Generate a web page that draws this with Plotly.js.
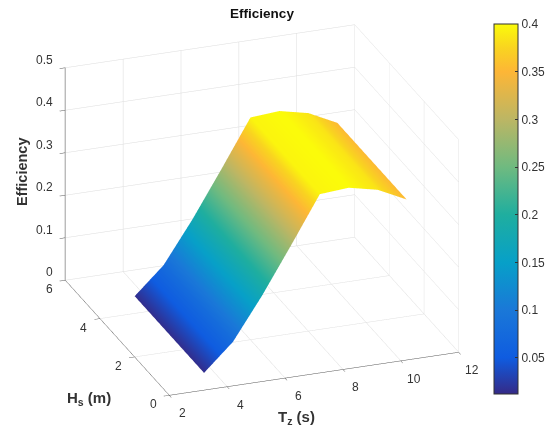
<!DOCTYPE html>
<html><head><meta charset="utf-8">
<script src="https://cdn.plot.ly/plotly-3.0.1.min.js"></script>
<style>html,body{margin:0;padding:0;background:#fff}#c{width:553px;height:432px}</style></head>
<body><div id="c"></div>
<script>
const tz = [3.5,4.5,5.5,6.5,7.5,8.5,9.5,10.5];
const hs = [0.5,1.5,2.5,3.5,4.5];
const eff05 = [0.015,0.078,0.176,0.284,0.395,0.40,0.385,0.352];
const eff15 = [0.015,0.078,0.176,0.284,0.395,0.40,0.385,0.352];
const eff25 = [0.015,0.078,0.176,0.284,0.395,0.40,0.385,0.352];
const eff35 = [0.015,0.078,0.176,0.284,0.395,0.40,0.385,0.352];
const eff45 = [0.015,0.078,0.176,0.284,0.395,0.40,0.385,0.352];
const tzTicks = [2,4,6,8,10,12];
const hsTicks = [0,2,4,6];
const effTicks = [0,0.1,0.2,0.3,0.4,0.5];
const cbarTicks = [0.05,0.1,0.15,0.2,0.25,0.3,0.35,0.4];
const cbarLabels = ['0.05','0.1','0.15','0.2','0.25','0.3','0.35','0.4'];
const cmin=0.012, cmax=0.4;
const stops=[[0.012,'#352a87'],[0.05,'#0f5ce0'],[0.1,'#1a78d8'],[0.15,'#07a0c8'],[0.2,'#1fae9f'],[0.25,'#6fba80'],[0.3,'#bcb664'],[0.35,'#fdb636'],[0.375,'#f9d420'],[0.4,'#fbfb0a']];
const scale=stops.map(s=>[(s[0]-cmin)/(cmax-cmin),s[1]]);
const fam='"Liberation Sans",Arial,sans-serif';
const font={family:fam,size:12,color:'#333'};
function ax(range,dtick,lw,col){return {range:range,dtick:dtick,tick0:0,autorange:false,tickangle:0,showticklabels:false,showbackground:false,showgrid:true,gridcolor:'#dcdcdc',gridwidth:1,zeroline:false,showline:true,linecolor:col,linewidth:lw,ticks:'outside',ticklen:6,tickcolor:'#555',tickfont:font,showspikes:false,title:{text:''}};}
function lab(x,y,z,text,dx,dy,anchor){return {x:x,y:y,z:z,text:text,showarrow:false,xshift:dx,yshift:-dy,xanchor:anchor,yanchor:'middle',font:font};}
const sceneLabels=[
 ...tzTicks.map(v=>lab(v,0,0,String(v),13,18,'center')),
 ...hsTicks.map(v=>lab(2,v,0,String(v),-16,9,'center')),
 ...effTicks.map(v=>lab(2,6,v,String(v),-10,-8,'right'))
];
Plotly.newPlot('c',[{type:'surface',x:tz,y:hs,z:[eff05,eff15,eff25,eff35,eff45],cmin:cmin,cmax:cmax,colorscale:scale,
 lighting:{ambient:1,diffuse:0,specular:0,roughness:1,fresnel:0},hoverinfo:'skip',
 colorbar:{thicknessmode:'pixels',thickness:24,lenmode:'pixels',len:370,x:494/553,xanchor:'left',y:38/432,yanchor:'bottom',xpad:0,ypad:0,outlinewidth:1,outlinecolor:'#333',ticks:'inside',ticklen:3,tickcolor:'#333',tickvals:cbarTicks,ticktext:cbarLabels,tickfont:{family:fam,size:12,color:'#333'}}}],
{width:553,height:432,margin:{l:0,r:0,t:0,b:0},paper_bgcolor:'#fff',showlegend:false,
 title:{text:'<b>Efficiency</b>',x:262/553,xanchor:'center',y:1-13/432,yanchor:'middle',font:{family:fam,size:13.5,color:'#111'}},
 scene:{domain:{x:[0,524/553],y:[12/432,1]},aspectmode:'manual',aspectratio:{x:1.468,y:1.439,z:1.107},
  camera:{projection:{type:'orthographic'},up:{x:0,y:0,z:1},center:{x:0,y:0,z:0},eye:{x:-0.374,y:-1.02,z:0.482}},
  xaxis:ax([2,12],2,1,'#555'),yaxis:ax([0,6],2,1,'#555'),zaxis:ax([0,0.5],0.1,2,'#888'),annotations:sceneLabels},
 annotations:[
  {xref:'paper',yref:'paper',x:89/553,y:1-398/432,xanchor:'center',yanchor:'middle',text:'<b>H<sub>s</sub> (m)</b>',showarrow:false,font:{family:fam,size:15,color:'#333'}},
  {xref:'paper',yref:'paper',x:296/553,y:1-417/432,xanchor:'center',yanchor:'middle',text:'<b>T<sub>z</sub> (s)</b>',showarrow:false,font:{family:fam,size:15,color:'#333'}},
  {xref:'paper',yref:'paper',x:22/553,y:1-172/432,xanchor:'center',yanchor:'middle',text:'<b>Efficiency</b>',textangle:-90,showarrow:false,font:{family:fam,size:14.5,color:'#333'}}
 ]},{displayModeBar:false});
</script></body></html>
